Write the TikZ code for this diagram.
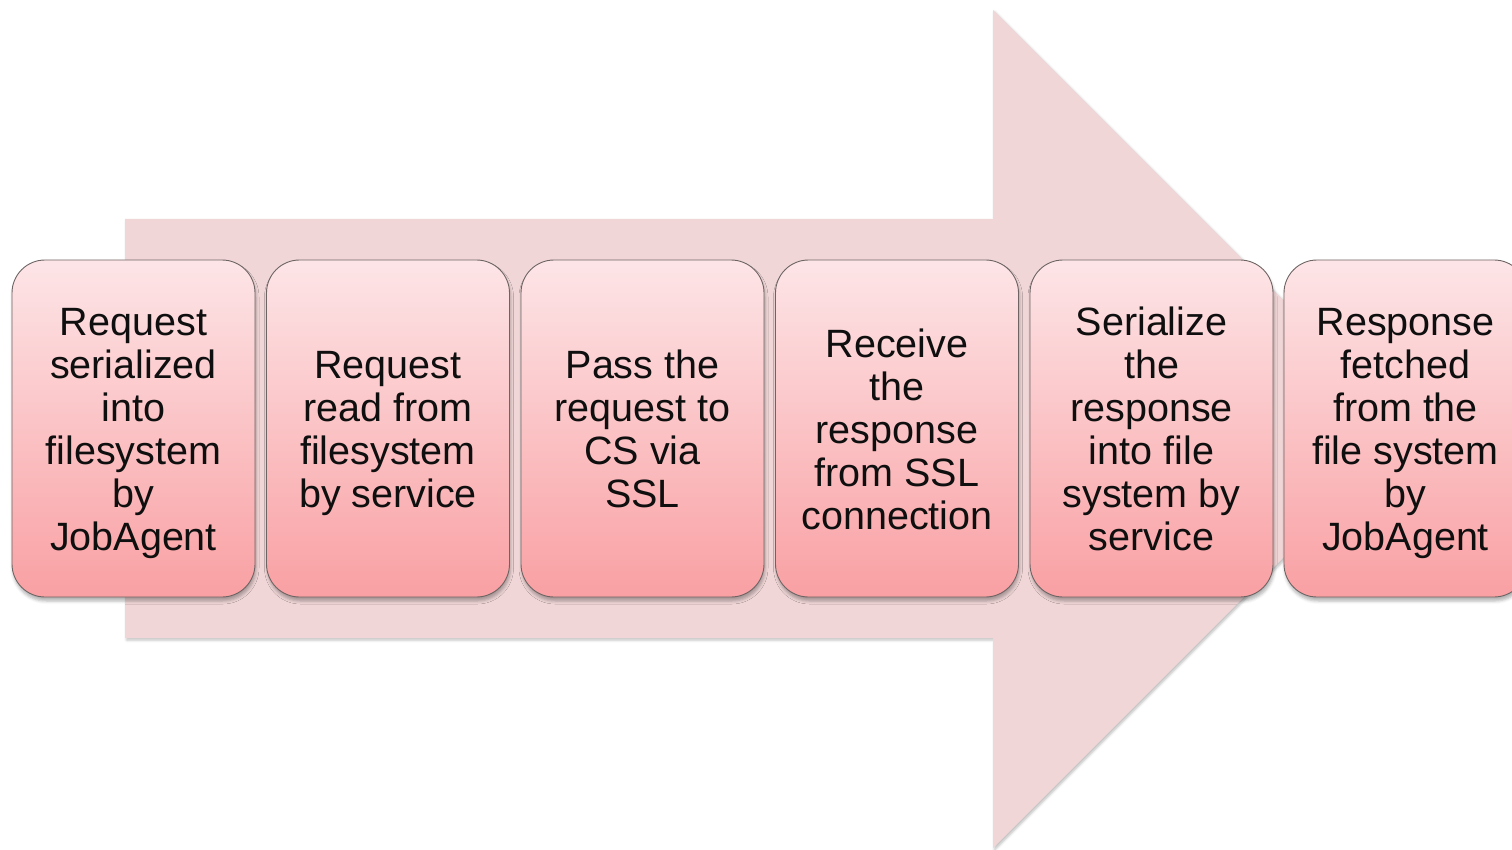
\documentclass[tikz,border=0pt]{standalone}
\usepackage{fontspec}
\setmainfont{Liberation Sans}
\usetikzlibrary{shadows.blur}
\definecolor{arrowfill}{RGB}{240,214,215}
\definecolor{boxtop}{RGB}{253,229,231}
\definecolor{boxbottom}{RGB}{249,160,163}
\definecolor{boxline}{RGB}{110,100,100}
\definecolor{ink}{RGB}{15,15,15}
\tikzset{
  stepbox/.style={
    draw=boxline, line width=0.9pt,
    rounded corners=33pt,
    minimum width=243pt, minimum height=337pt,
    top color=boxtop, bottom color=boxbottom,
    align=center, text=ink, inner sep=0pt,
    font=\fontsize{39.5}{43}\selectfont,
    blur shadow={shadow xshift=1pt, shadow yshift=-4pt,
                 shadow blur radius=3pt, shadow opacity=30}
  },
  flowarrow/.style={
    fill=arrowfill,
    blur shadow={shadow xshift=1.5pt, shadow yshift=-2pt,
                 shadow blur radius=2.5pt, shadow opacity=25}
  }
}
% step text, drawn slightly lower than its centred position
\newcommand{\steptext}[1]{\raisebox{-6pt}[\height][\depth]{\begin{tabular}{@{}c@{}}#1\end{tabular}}}
\begin{document}
\begin{tikzpicture}[x=1pt,y=-1pt]
\useasboundingbox (0,0) rectangle (1512,850);
\clip (0,0) rectangle (1512,850);
% large background arrow
\path[flowarrow] (125,219) -- (993,219) -- (993,10) -- (1412,429)
  -- (993,848) -- (993,638) -- (125,638) -- cycle;
% process steps
\node[stepbox] (s1) at (133.5,428.5) {\steptext{Request\\serialized\\into\\filesystem\\by\\JobAgent}};
\node[stepbox] (s2) at (388,428.5) {\steptext{Request\\read from\\filesystem\\by service}};
\node[stepbox] (s3) at (642.5,428.5) {\steptext{Pass the\\request to\\CS via\\SSL}};
\node[stepbox] (s4) at (897,428.5) {\steptext{Receive\\the\\response\\from SSL\\connection}};
\node[stepbox] (s5) at (1151.5,428.5) {\steptext{Serialize\\the\\response\\into file\\system by\\service}};
\node[stepbox] (s6) at (1405.5,428.5) {\steptext{Response\\fetched\\from the\\file system\\by\\JobAgent}};
\end{tikzpicture}
\end{document}
